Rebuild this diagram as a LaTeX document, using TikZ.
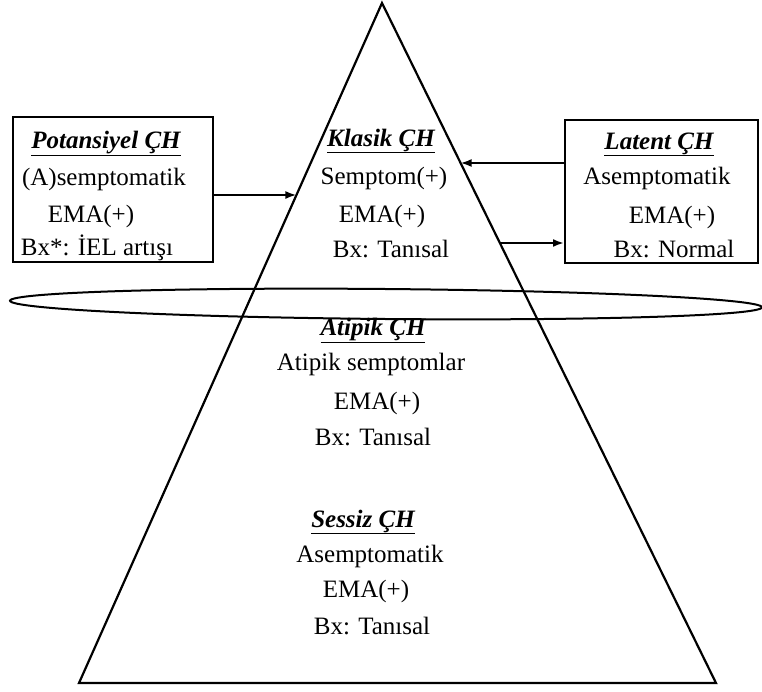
\documentclass[tikz,border=0pt]{standalone}
\usepackage{fontspec}
\setmainfont{Liberation Serif}
\usetikzlibrary{shapes,arrows,arrows.meta,calc}
\tikzstyle{box} = [rectangle, draw, line width=2pt, inner sep=0pt]
\tikzstyle{txt} = [font=\fontsize{25}{29}\selectfont, inner sep=0pt, anchor=base]
\tikzstyle{head} = [txt, font=\fontsize{25}{29}\selectfont\bfseries\itshape]
\tikzstyle{line} = [draw, line width=2pt, -{Latex[length=11pt, width=8pt]}]
\tikzstyle{ring} = [ellipse, draw, line width=2pt, inner sep=0pt]

\begin{document}
\begin{tikzpicture}[x=1pt, y=-1pt]
  \useasboundingbox (0,0) rectangle (762,691);

  % pyramid
  \coordinate (apex) at (382,3);
  \coordinate (bl) at (79,683);
  \coordinate (br) at (716,683);
  \draw [line width=2.2pt, line join=miter] (apex) -- (bl) -- (br) -- cycle;

  % side boxes
  \node [box, minimum width=200pt, minimum height=145pt] (pbox) at (113,189.5) {};
  \node [box, minimum width=193pt, minimum height=143pt] (lbox) at (661.5,191.5) {};

  % potansiyel
  \node [head] (pot) at (106,148) {\underline{Potansiyel ÇH}};
  \node [txt] (pot1) at (104,185) {(A)semptomatik};
  \node [txt] (pot2) at (91,222) {EMA(+)};
  \node [txt] (pot3) at (97,255) {Bx*: İEL artışı};

  % klasik
  \node [head] (kla) at (381,146) {\underline{Klasik ÇH}};
  \node [txt] (kla1) at (384,184) {Semptom(+)};
  \node [txt] (kla2) at (382,222) {EMA(+)};
  \node [txt] (kla3) at (391,257) {Bx: Tanısal};

  % latent
  \node [head] (lat) at (659,149) {\underline{Latent ÇH}};
  \node [txt] (lat1) at (657,184) {Asemptomatik};
  \node [txt] (lat2) at (672,223) {EMA(+)};
  \node [txt] (lat3) at (674,257) {Bx: Normal};

  % atipik
  \node [head] (ati) at (373,335) {\underline{Atipik ÇH}};
  \node [txt] (ati1) at (371,370) {Atipik semptomlar};
  \node [txt] (ati2) at (377,409) {EMA(+)};
  \node [txt] (ati3) at (373,445) {Bx: Tanısal};

  % sessiz
  \node [head] (ses) at (363,527) {\underline{Sessiz ÇH}};
  \node [txt] (ses1) at (370,562) {Asemptomatik};
  \node [txt] (ses2) at (366,597) {EMA(+)};
  \node [txt] (ses3) at (372,634) {Bx: Tanısal};

  % ellipse band
  \node [ring, rotate=-0.5, minimum width=752pt, minimum height=30pt] (band) at (386,304) {};

  % arrows
  \coordinate (lhit) at ($(apex)!{192/680}!(bl)$);
  \coordinate (rhit1) at ($(apex)!{160/680}!(br)$);
  \coordinate (rhit2) at ($(apex)!{240/680}!(br)$);
  \path [line] (pbox.east |- lhit) -- (lhit);
  \path [line] (lbox.west |- rhit1) -- (rhit1);
  \path [line] (rhit2) -- (rhit2 -| lbox.west);

\end{tikzpicture}
\end{document}
